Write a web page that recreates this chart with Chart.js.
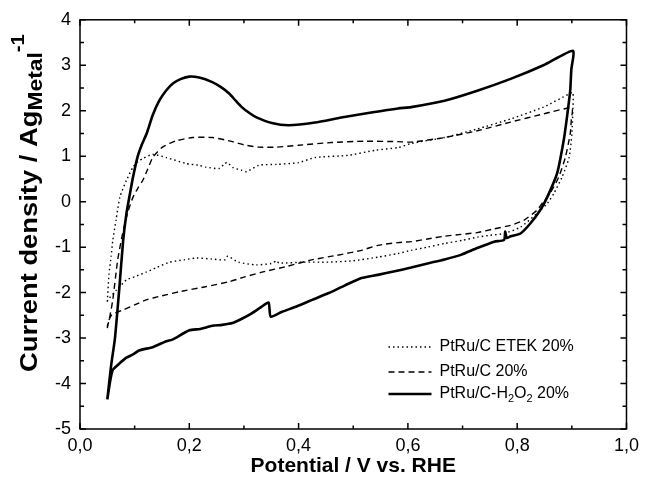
<!DOCTYPE html>
<html>
<head>
<meta charset="utf-8">
<script src="https://cdn.jsdelivr.net/npm/chart.js@4.4.0/dist/chart.umd.min.js"></script>
<style>
  body { margin: 0; background: #fff; }
  canvas { display: block; }
</style>
</head>
<body>
<canvas id="cv" width="645" height="484"></canvas>
<script>
// series names
const names = ['PtRu/C ETEK 20%', 'PtRu/C 20%', 'PtRu/C-H2O2 20%'];

// x tick labels (comma decimals, as in the figure)
const xTickLabels = ['0,0', '0,2', '0,4', '0,6', '0,8', '1,0'];

// PtRu/C ETEK 20% (dotted) - potential / V, current / A g-1, in sweep order
const etekE = [0.050, 0.053, 0.057, 0.060, 0.066, 0.073, 0.085, 0.097, 0.106, 0.115, 0.133, 0.158, 0.194, 0.218, 0.230,
  0.255, 0.265, 0.270, 0.280, 0.296, 0.305, 0.327, 0.360, 0.400, 0.430, 0.491, 0.540, 0.582, 0.606, 0.667, 0.727,
  0.788, 0.848, 0.895, 0.902, 0.902, 0.900, 0.895, 0.882, 0.867, 0.855, 0.836, 0.806, 0.776, 0.750, 0.727, 0.700,
  0.667, 0.636, 0.606, 0.582, 0.545, 0.500, 0.455, 0.410, 0.364, 0.360, 0.350, 0.322, 0.290, 0.270, 0.265, 0.240,
  0.213, 0.190, 0.164, 0.140, 0.121, 0.100, 0.085, 0.067, 0.051, 0.050];
const etekI = [-2.20, -1.60, -1.20, -0.85, -0.40, 0.10, 0.47, 0.76, 0.88, 0.95, 1.04, 0.97, 0.84, 0.80, 0.76,
  0.73, 0.84, 0.86, 0.75, 0.69, 0.66, 0.80, 0.82, 0.86, 0.97, 1.02, 1.13, 1.19, 1.28, 1.41, 1.60,
  1.82, 2.08, 2.37, 2.40, 2.07, 1.49, 0.97, 0.54, 0.18, -0.04, -0.26, -0.56, -0.70, -0.74, -0.78, -0.85,
  -0.92, -1.00, -1.07, -1.14, -1.22, -1.30, -1.33, -1.33, -1.35, -1.30, -1.36, -1.39, -1.33, -1.20, -1.28, -1.26,
  -1.24, -1.28, -1.33, -1.45, -1.55, -1.65, -1.72, -1.94, -2.16, -2.20];

// PtRu/C 20% (dashed)
const ptruE = [0.050, 0.055, 0.060, 0.069, 0.078, 0.087, 0.097, 0.106, 0.115, 0.124, 0.133, 0.142, 0.151, 0.164, 0.176,
  0.206, 0.242, 0.279, 0.300, 0.327, 0.360, 0.400, 0.460, 0.521, 0.582, 0.606, 0.667, 0.727, 0.788, 0.848, 0.900,
  0.899, 0.897, 0.888, 0.876, 0.860, 0.848, 0.836, 0.812, 0.788, 0.757, 0.727, 0.697, 0.667, 0.636, 0.606, 0.582,
  0.545, 0.515, 0.470, 0.424, 0.380, 0.333, 0.300, 0.273, 0.230, 0.182, 0.150, 0.121, 0.100, 0.079, 0.058, 0.051, 0.050];
const ptruI = [-2.78, -2.50, -2.16, -1.28, -0.70, -0.25, 0.10, 0.30, 0.47, 0.72, 0.97, 1.10, 1.20, 1.28, 1.34,
  1.41, 1.41, 1.32, 1.25, 1.20, 1.20, 1.24, 1.30, 1.33, 1.32, 1.31, 1.41, 1.56, 1.75, 1.93, 2.06,
  1.80, 1.49, 0.97, 0.54, 0.18, 0.00, -0.19, -0.41, -0.52, -0.60, -0.68, -0.72, -0.76, -0.82, -0.88, -0.90,
  -0.96, -1.07, -1.18, -1.28, -1.42, -1.55, -1.66, -1.76, -1.87, -1.98, -2.07, -2.16, -2.27, -2.38, -2.49, -2.67, -2.78];

// PtRu/C-H2O2 20% (solid)
const h2o2E = [0.050, 0.057, 0.064, 0.072, 0.079, 0.085, 0.091, 0.097, 0.105, 0.113, 0.122, 0.133, 0.145, 0.158, 0.170,
  0.185, 0.200, 0.218, 0.242, 0.258, 0.273, 0.285, 0.296, 0.310, 0.322, 0.351, 0.382, 0.430, 0.478, 0.533, 0.582,
  0.606, 0.667, 0.727, 0.788, 0.848, 0.902, 0.899, 0.897, 0.891, 0.885, 0.873, 0.855, 0.842, 0.824, 0.806, 0.788,
  0.781, 0.778, 0.776, 0.758, 0.727, 0.697, 0.667, 0.636, 0.606, 0.576, 0.545, 0.515, 0.485, 0.455, 0.425, 0.395,
  0.370, 0.349, 0.345, 0.330, 0.315, 0.297, 0.279, 0.260, 0.242, 0.220, 0.200, 0.170, 0.158, 0.133, 0.109, 0.097,
  0.085, 0.073, 0.060, 0.055, 0.050];
const h2o2I = [-4.35, -3.60, -3.00, -1.90, -0.85, -0.26, 0.15, 0.54, 0.97, 1.25, 1.50, 1.90, 2.22, 2.45, 2.60,
  2.70, 2.75, 2.73, 2.63, 2.52, 2.38, 2.22, 2.08, 1.95, 1.86, 1.73, 1.68, 1.74, 1.85, 1.96, 2.05,
  2.08, 2.22, 2.44, 2.70, 3.00, 3.32, 2.90, 2.44, 1.85, 1.34, 0.62, 0.10, -0.19, -0.48, -0.70, -0.76,
  -0.80, -0.66, -0.84, -0.88, -1.02, -1.17, -1.27, -1.36, -1.45, -1.53, -1.61, -1.68, -1.84, -2.01, -2.16, -2.31,
  -2.42, -2.53, -2.22, -2.33, -2.45, -2.57, -2.67, -2.71, -2.73, -2.80, -2.83, -3.03, -3.07, -3.20, -3.27, -3.36,
  -3.43, -3.55, -3.70, -3.96, -4.35];

function pts(xs, ys) {
  return xs.map((v, i) => ({ x: v, y: ys[i] }));
}

const dashes = [[1.5, 3], [6, 4], []];
const widths = [1.4, 1.4, 2.6];

// inner ticks, box, titles and legend
const frame = {
  id: 'frame',
  afterDraw(chart) {
    const { ctx, chartArea: a, scales: { x, y } } = chart;
    ctx.save();
    ctx.strokeStyle = '#000';
    ctx.lineWidth = 1.5;
    ctx.strokeRect(a.left, a.top, a.right - a.left, a.bottom - a.top);
    ctx.beginPath();
    for (let i = 0; i <= 10; i++) {
      const px = x.getPixelForValue(i / 10);
      const len = i % 2 ? 3.5 : 6;
      ctx.moveTo(px, a.bottom); ctx.lineTo(px, a.bottom - len);
      ctx.moveTo(px, a.top); ctx.lineTo(px, a.top + len);
    }
    for (let i = -10; i <= 8; i++) {
      const py = y.getPixelForValue(i / 2);
      const len = i % 2 ? 4 : 6;
      ctx.moveTo(a.left, py); ctx.lineTo(a.left + len, py);
      ctx.moveTo(a.right, py); ctx.lineTo(a.right - len, py);
    }
    ctx.stroke();

    // x title
    ctx.fillStyle = '#000';
    ctx.font = 'bold 21px "Liberation Sans", Arial, sans-serif';
    ctx.textAlign = 'center';
    ctx.textBaseline = 'middle';
    ctx.fillText('Potential / V vs. RHE', (a.left + a.right) / 2, 466);

    // y title, rotated; the original lettering is a bit elongated
    const fMain = 'bold 24px "Liberation Sans", Arial, sans-serif';
    const fSub = 'bold 20px "Liberation Sans", Arial, sans-serif';
    const fSup = 'bold 18px "Liberation Sans", Arial, sans-serif';
    ctx.save();
    ctx.textAlign = 'left';
    ctx.textBaseline = 'alphabetic';
    ctx.font = fMain; const w1 = ctx.measureText('Current density / Ag').width;
    ctx.font = fSub; const w2 = ctx.measureText('Metal').width;
    ctx.font = fSup; const w3 = ctx.measureText('-1').width;
    const k = 338 / (w1 + w2 + w3);
    ctx.translate(37, 372);
    ctx.rotate(-Math.PI / 2);
    ctx.scale(k, 1);
    ctx.font = fMain; ctx.fillText('Current density / Ag', 0, 0);
    ctx.font = fSub; ctx.fillText('Metal', w1, 5);
    ctx.font = fSup; ctx.fillText('-1', w1 + w2, -13);
    ctx.restore();

    // legend
    const rows = [a.bottom - 82, a.bottom - 57, a.bottom - 35];
    const x0 = a.right - 238, x1 = a.right - 195, tx = a.right - 187;
    ctx.textAlign = 'left';
    ctx.textBaseline = 'middle';
    rows.forEach((ry, i) => {
      ctx.beginPath();
      ctx.setLineDash(dashes[i]);
      ctx.lineWidth = widths[i];
      ctx.moveTo(x0, ry); ctx.lineTo(x1, ry);
      ctx.stroke();
      ctx.setLineDash([]);
      ctx.font = '16px "Liberation Sans", Arial, sans-serif';
      if (i < 2) {
        ctx.fillText(names[i], tx, ry);
      } else {
        let p = tx;
        const parts = [['PtRu/C-H', 0], ['2', 1], ['O', 0], ['2', 1], [' 20%', 0]];
        parts.forEach(([t, sub]) => {
          ctx.font = sub ? '11px "Liberation Sans", Arial, sans-serif' : '16px "Liberation Sans", Arial, sans-serif';
          ctx.fillText(t, p, sub ? ry + 5 : ry);
          p += ctx.measureText(t).width;
        });
      }
    });
    ctx.restore();
  }
};

new Chart(document.getElementById('cv'), {
  type: 'scatter',
  data: {
    datasets: [
      { label: names[0], data: pts(etekE, etekI), borderDash: dashes[0], borderWidth: widths[0] },
      { label: names[1], data: pts(ptruE, ptruI), borderDash: dashes[1], borderWidth: widths[1] },
      { label: names[2], data: pts(h2o2E, h2o2I), borderDash: dashes[2], borderWidth: widths[2] }
    ].map(d => Object.assign(d, {
      showLine: true, pointRadius: 0, borderColor: '#000', backgroundColor: '#000',
      tension: 0.2, fill: false, borderJoinStyle: 'round'
    }))
  },
  options: {
    responsive: false,
    animation: false,
    layout: { padding: { top: 19, right: 15, left: 0, bottom: 0 } },
    plugins: { legend: { display: false }, tooltip: { enabled: false } },
    scales: {
      x: {
        min: 0, max: 1,
        grid: { display: false, drawTicks: false },
        border: { display: false },
        ticks: {
          stepSize: 0.2, padding: 6, color: '#000',
          font: { size: 18, family: '"Liberation Sans", Arial, sans-serif' },
          callback: v => xTickLabels[Math.round(v * 5)]
        },
        afterFit: s => { s.height = 55; }
      },
      y: {
        min: -5, max: 4,
        grid: { display: false, drawTicks: false },
        border: { display: false },
        ticks: {
          stepSize: 1, padding: 9, color: '#000',
          font: { size: 18, family: '"Liberation Sans", Arial, sans-serif' },
          callback: v => String(v)
        },
        afterFit: s => { s.width = 80; }
      }
    }
  },
  plugins: [frame]
});
</script>
</body>
</html>
